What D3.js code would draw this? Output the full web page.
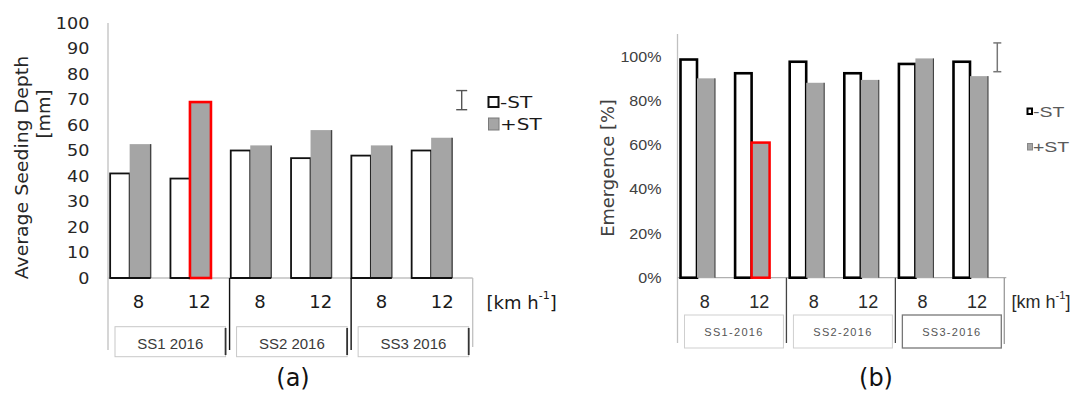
<!DOCTYPE html>
<html>
<head>
<meta charset="utf-8">
<script src="https://cdn.jsdelivr.net/npm/d3@7/dist/d3.min.js"></script>
<style>
  html, body { margin: 0; padding: 0; background: #fff; }
  svg { display: block; }
</style>
</head>
<body>
<script>
// ---------------- DATA ----------------
const sitesA = ["SS1 2016", "SS2 2016", "SS3 2016"];
const sitesB = ["SS1-2016", "SS2-2016", "SS3-2016"];
const speeds = ["8", "12"];
const seriesNames = ["-ST", "+ST"];

// (a) Average seeding depth [mm]
const depthNoST = [41, 39, 50, 47, 48, 50];
const depthST   = [52.5, 69, 52, 58, 52, 55];
const ticksA    = [0, 10, 20, 30, 40, 50, 60, 70, 80, 90, 100];
const lsdA      = [66, 73.5];     // error-bar indicator (low, high)

// (b) Emergence [%]
const emergNoST = [0.985, 0.923, 0.975, 0.923, 0.965, 0.975];
const emergST   = [0.90, 0.61, 0.88, 0.893, 0.99, 0.91];
const ticksB    = [0, 0.2, 0.4, 0.6, 0.8, 1.0];
const lsdB      = [0.93, 1.06];

const highlightIdx = 1;           // SS1, 12 km/h, +ST outlined in red
const panelLabels = ["(a)", "(b)"];

// ---------------- SETUP ----------------
const W = 1079, H = 394;
const svg = d3.select("body").append("svg").attr("width", W).attr("height", H);
svg.append("rect").attr("width", W).attr("height", H).attr("fill", "#fff");

function txt(parent, x, y, s, o) {
  const t = parent.append("text")
    .attr("transform", `translate(${x},${y})${o.rot ? ` rotate(${o.rot})` : ""} scale(${o.sx || 1},1)`)
    .attr("text-anchor", o.anchor || "start")
    .attr("dominant-baseline", o.base || "central")
    .attr("font-family", o.family)
    .attr("font-size", o.size)
    .attr("fill", o.fill || "#222");
  if (o.ls) t.attr("letter-spacing", o.ls);
  t.text(s);
  return t;
}
function kmh(parent, x, y, family, size, fill, sx) {
  const t = parent.append("text")
    .attr("transform", `translate(${x},${y}) scale(${sx || 1},1)`)
    .attr("dominant-baseline", "central")
    .attr("font-family", family).attr("font-size", size).attr("fill", fill);
  t.append("tspan").text("[km h");
  t.append("tspan").attr("font-size", size * 0.62).attr("dy", -size * 0.38).text("-1");
  t.append("tspan").attr("dy", size * 0.38).text("]");
}

const GRAY = "#a5a5a5";
const AXIS = "#c0c0c0";

// ======================= PANEL (a) =======================
(function () {
  const FA = "DejaVu Sans, Arial, sans-serif";
  const g = svg.append("g");
  const keys = sitesA.flatMap(s => speeds.map(v => s + "|" + v));
  const rows = keys.map((k, i) => ({ k, speed: k.split("|")[1], no: depthNoST[i], st: depthST[i], hl: i === highlightIdx }));

  const y = d3.scaleLinear().domain([0, 100]).range([278, 23]);
  const xBar = d3.scaleBand().domain(keys).range([99.5, 461.3]);
  const xLab = d3.scaleBand().domain(keys).range([108, 472.7]);
  const xSite = d3.scaleBand().domain(sitesA).range([108, 472.7]);
  const frameBottom = 350, frameRightBottom = 347;

  // y axis
  const ax = g.append("g").attr("transform", `translate(${xLab.range()[0]},0)`)
    .call(d3.axisLeft(y).tickValues(ticksA).tickSize(0).tickPadding(17));
  ax.select(".domain").remove();
  ax.selectAll("text").attr("font-family", FA).attr("font-size", 16).attr("fill", "#262626")
    .attr("transform", "scale(1.1,1)");
  g.append("line").attr("x1", xLab.range()[0]).attr("x2", xLab.range()[0])
    .attr("y1", y(100)).attr("y2", frameBottom).attr("stroke", AXIS).attr("stroke-width", 1.3);

  // category frame
  g.append("line").attr("x1", xLab.range()[0]).attr("x2", xLab.range()[1])
    .attr("y1", y(0)).attr("y2", y(0)).attr("stroke", AXIS).attr("stroke-width", 1.3);
  g.append("line").attr("x1", xLab.range()[1]).attr("x2", xLab.range()[1])
    .attr("y1", y(0)).attr("y2", frameRightBottom).attr("stroke", AXIS).attr("stroke-width", 1.3);
  g.selectAll(".sep").data(sitesA.slice(1)).enter().append("line")
    .attr("x1", d => xSite(d)).attr("x2", d => xSite(d))
    .attr("y1", y(0)).attr("y2", frameBottom).attr("stroke", "#111").attr("stroke-width", 1.4);

  // bars
  const c = d => xBar(d.k) + xBar.bandwidth() / 2;
  g.selectAll(".no").data(rows).enter().append("rect")
    .attr("x", d => c(d) - 19.5).attr("width", 19.5)
    .attr("y", d => y(d.no)).attr("height", d => y(0) - y(d.no))
    .attr("fill", "#fff").attr("stroke", "#111").attr("stroke-width", 1.8);
  g.selectAll(".st").data(rows).enter().append("rect")
    .attr("x", d => c(d)).attr("width", 21)
    .attr("y", d => y(d.st)).attr("height", d => y(0) - y(d.st))
    .attr("fill", GRAY).attr("stroke", d => d.hl ? "#ff0000" : "none").attr("stroke-width", 2.6);
  g.selectAll(".edge").data(rows.filter(d => !d.hl)).enter().append("line")
    .attr("x1", d => c(d) + 21).attr("x2", d => c(d) + 21)
    .attr("y1", d => y(d.st)).attr("y2", y(0)).attr("stroke", "#444").attr("stroke-width", 1.4);
  g.selectAll(".bot").data(rows).enter().append("line")
    .attr("x1", d => c(d) - 19.5).attr("x2", d => c(d) + (d.hl ? 0 : 21))
    .attr("y1", y(0)).attr("y2", y(0)).attr("stroke", "#111").attr("stroke-width", 1.8);

  // speed labels
  rows.forEach(d => txt(g, xLab(d.k) + xLab.bandwidth() / 2, 301.5, d.speed,
    { family: FA, size: 18, anchor: "middle", fill: "#1a1a1a" }));
  kmh(g, 486.5, 301.5, FA, 18, "#1a1a1a", 1);

  // site boxes
  sitesA.forEach(s => {
    const x0 = xSite(s) + 7, x1 = xSite(s) + xSite.bandwidth() - 4;
    g.append("rect").attr("x", x0).attr("y", 326.7).attr("width", x1 - x0).attr("height", 30)
      .attr("fill", "#fff").attr("stroke", "#c8c8c8").attr("stroke-width", 1);
    g.append("line").attr("x1", x1).attr("x2", x1).attr("y1", 328).attr("y2", 355)
      .attr("stroke", "#333").attr("stroke-width", 1.8);
    txt(g, (x0 + x1) / 2, 343, s, { family: "Liberation Sans, Arial, sans-serif", size: 15, anchor: "middle", fill: "#3a3a3a" });
  });

  // y title
  txt(g, 28, (y(85) + y(0)) / 2 - 2, "Average Seeding Depth", { family: FA, size: 18, rot: -90, anchor: "middle", base: "auto", sx: 1.05, fill: "#262626" });
  txt(g, 50, 114, "[mm]", { family: FA, size: 18, rot: -90, anchor: "middle", base: "auto", fill: "#262626" });

  // LSD indicator
  const ex = 461.7;
  g.append("line").attr("x1", ex).attr("x2", ex).attr("y1", y(lsdA[1])).attr("y2", y(lsdA[0])).attr("stroke", "#555").attr("stroke-width", 1.4);
  [lsdA[0], lsdA[1]].forEach(v => g.append("line").attr("x1", ex - 5.5).attr("x2", ex + 5.5)
    .attr("y1", y(v)).attr("y2", y(v)).attr("stroke", "#555").attr("stroke-width", 1.4));

  // legend
  const ly = [102, 124];
  g.append("rect").attr("x", 488.5).attr("y", ly[0] - 5).attr("width", 10).attr("height", 10)
    .attr("fill", "#fff").attr("stroke", "#111").attr("stroke-width", 2);
  g.append("rect").attr("x", 488.5).attr("y", ly[1] - 6).attr("width", 10.5).attr("height", 12)
    .attr("fill", GRAY).attr("stroke", "#7a7a7a").attr("stroke-width", 1);
  seriesNames.forEach((s, i) => txt(g, 500, ly[i], s, { family: FA, size: 16, sx: 1.25, fill: "#1a1a1a" }));

  txt(g, 293, 386, panelLabels[0], { family: FA, size: 24, anchor: "middle", base: "auto", fill: "#111" });
})();

// ======================= PANEL (b) =======================
(function () {
  const FB = "Liberation Sans, Arial, sans-serif";
  const g = svg.append("g");
  const keys = sitesB.flatMap(s => speeds.map(v => s + "|" + v));
  const rows = keys.map((k, i) => ({ k, speed: k.split("|")[1], no: emergNoST[i], st: emergST[i], hl: i === highlightIdx }));

  const y = d3.scaleLinear().domain([0, 1.1]).range([277.7, 34.05]);
  const xBar = d3.scaleBand().domain(keys).range([669.7, 997.3]);
  const xLab = d3.scaleBand().domain(keys).range([677.5, 1004.3]);
  const xSite = d3.scaleBand().domain(sitesB).range([677.5, 1004.3]);
  const frameBottom = 343;

  const ax = g.append("g").attr("transform", `translate(${xLab.range()[0]},0)`)
    .call(d3.axisLeft(y).tickValues(ticksB).tickSize(0).tickPadding(15).tickFormat(d3.format(".0%")));
  ax.select(".domain").remove();
  ax.selectAll("text").attr("font-family", FB).attr("font-size", 15).attr("fill", "#404040")
    .attr("transform", "scale(1.07,1)");
  g.append("line").attr("x1", xLab.range()[0]).attr("x2", xLab.range()[0])
    .attr("y1", y(1.1)).attr("y2", frameBottom).attr("stroke", AXIS).attr("stroke-width", 1.3);

  g.append("line").attr("x1", xLab.range()[0]).attr("x2", xLab.range()[1] + 2)
    .attr("y1", y(0)).attr("y2", y(0)).attr("stroke", "#b0b0b0").attr("stroke-width", 1.3);
  g.append("line").attr("x1", xLab.range()[1]).attr("x2", xLab.range()[1])
    .attr("y1", y(0)).attr("y2", frameBottom + 1).attr("stroke", "#9a9a9a").attr("stroke-width", 1.3);
  g.selectAll(".sep").data(sitesB.slice(1)).enter().append("line")
    .attr("x1", d => xSite(d)).attr("x2", d => xSite(d))
    .attr("y1", y(0)).attr("y2", frameBottom).attr("stroke", "#444").attr("stroke-width", 1.3);

  const c = d => xBar(d.k) + xBar.bandwidth() / 2;
  g.selectAll(".no").data(rows).enter().append("rect")
    .attr("x", d => c(d) - 16.5).attr("width", 16.5)
    .attr("y", d => y(d.no)).attr("height", d => y(0) - y(d.no))
    .attr("fill", "#fff").attr("stroke", "#000").attr("stroke-width", 2.6);
  g.selectAll(".st").data(rows).enter().append("rect")
    .attr("x", d => c(d)).attr("width", 18)
    .attr("y", d => y(d.st)).attr("height", d => y(0) - y(d.st))
    .attr("fill", GRAY).attr("stroke", d => d.hl ? "#ff0000" : "none").attr("stroke-width", 2.5);
  g.selectAll(".edge").data(rows.filter(d => !d.hl)).enter().append("line")
    .attr("x1", d => c(d) + 18).attr("x2", d => c(d) + 18)
    .attr("y1", d => y(d.st)).attr("y2", y(0)).attr("stroke", "#333").attr("stroke-width", 1);

  rows.forEach(d => txt(g, xLab(d.k) + xLab.bandwidth() / 2, 301.5, d.speed,
    { family: FB, size: 18, anchor: "middle", fill: "#2a2a2a" }));
  kmh(g, 1011.5, 301.5, FB, 18, "#2a2a2a", 1);

  sitesB.forEach((s, i) => {
    const x0 = xSite(s) + 7, x1 = xSite(s) + xSite.bandwidth() - 3;
    g.append("rect").attr("x", x0).attr("y", 315).attr("width", x1 - x0).attr("height", 33)
      .attr("fill", "#fff").attr("stroke", i === 2 ? "#777" : "#cfcfcf").attr("stroke-width", i === 2 ? 1.3 : 1);
    txt(g, (x0 + x1) / 2, 331.5, s, { family: FB, size: 11, anchor: "middle", fill: "#555", ls: 1.3 });
  });

  txt(g, 614, 168, "Emergence [%]", { family: "DejaVu Sans, Arial, sans-serif", size: 17, rot: -90, anchor: "middle", base: "auto", sx: 1.05, fill: "#404040" });

  const ex = 997.3;
  g.append("line").attr("x1", ex).attr("x2", ex).attr("y1", y(lsdB[1])).attr("y2", y(lsdB[0])).attr("stroke", "#777").attr("stroke-width", 1.5);
  [lsdB[0], lsdB[1]].forEach(v => g.append("line").attr("x1", ex - 4).attr("x2", ex + 4)
    .attr("y1", y(v)).attr("y2", y(v)).attr("stroke", "#777").attr("stroke-width", 1.5));

  const ly = [111.5, 147];
  g.append("rect").attr("x", 1027.5).attr("y", ly[0] - 3).attr("width", 4.5).attr("height", 5.5)
    .attr("fill", "#fff").attr("stroke", "#000").attr("stroke-width", 2);
  g.append("rect").attr("x", 1027.5).attr("y", ly[1] - 3.5).attr("width", 5).attr("height", 6.5)
    .attr("fill", GRAY).attr("stroke", "#888").attr("stroke-width", 1);
  seriesNames.forEach((s, i) => txt(g, 1033, ly[i], s, { family: FB, size: 15, sx: 1.3, fill: "#5a5a5a" }));

  txt(g, 876, 386, panelLabels[1], { family: "DejaVu Sans, Arial, sans-serif", size: 24, anchor: "middle", base: "auto", fill: "#111" });
})();
</script>
</body>
</html>
